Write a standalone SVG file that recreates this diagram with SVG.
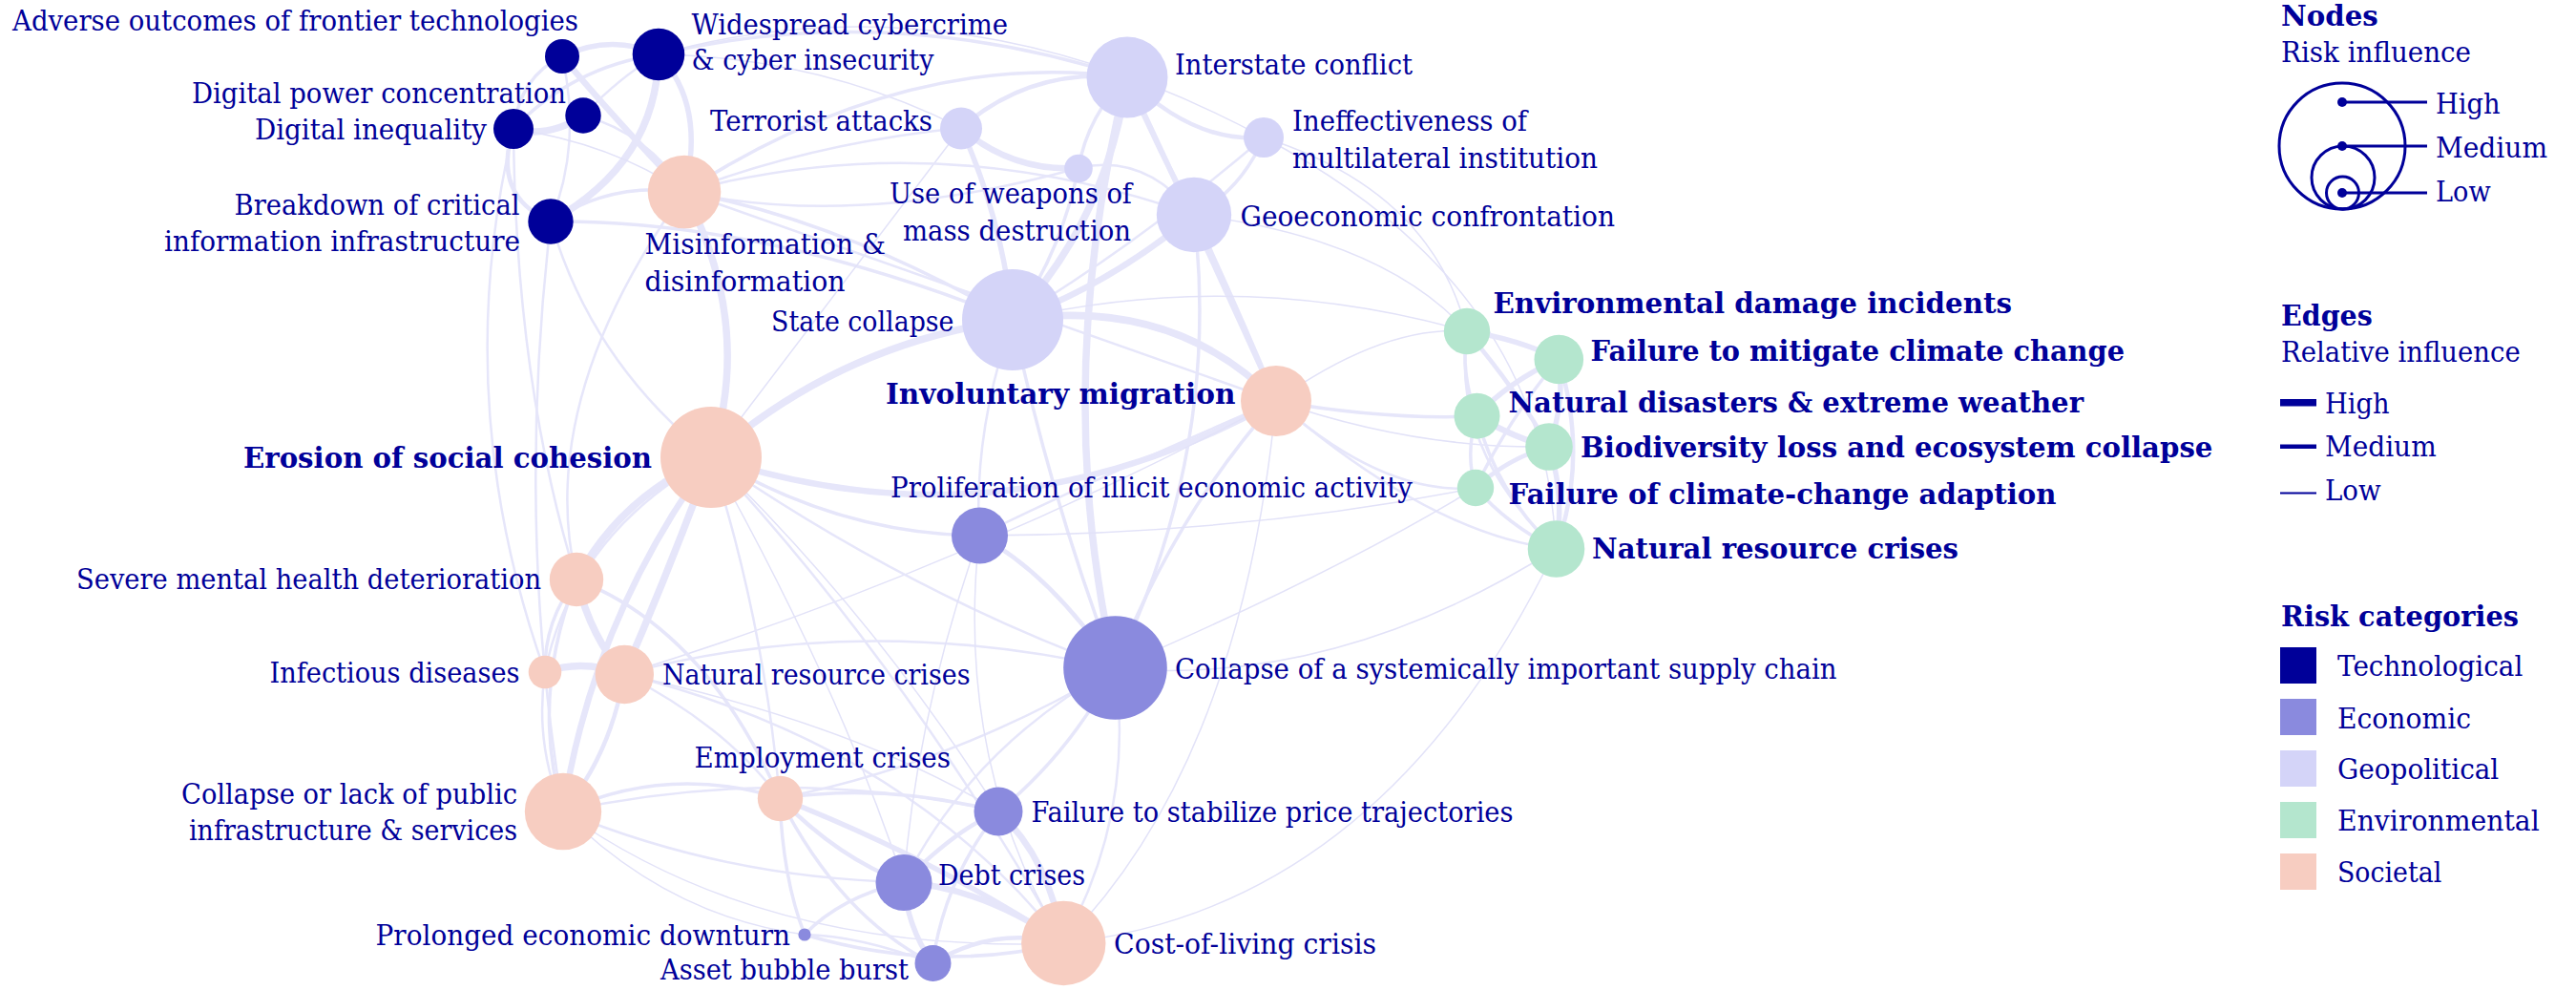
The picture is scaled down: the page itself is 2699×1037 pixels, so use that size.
<svg xmlns="http://www.w3.org/2000/svg" width="2699" height="1037" viewBox="0 0 2699 1037">
  <style>
    .lbl { font-family: "DejaVu Serif", "Liberation Serif", serif; font-size: 29px; fill: #000099; }
    .b { font-weight: bold; }
    .e { fill: none; stroke: #E6E6FA; stroke-linecap: round; }
    .w1 { stroke-width: 1.5; stroke: #E2E2F8; }
    .w2 { stroke-width: 2.5; }
    .w3 { stroke-width: 3.5; }
    .w4 { stroke-width: 4.5; }
    .w5 { stroke-width: 5.5; }
    .w6 { stroke-width: 6.5; }
    .w7 { stroke-width: 7.5; }
    .tech { fill: #000099; }
    .econ { fill: #8A8ADE; }
    .geo { fill: #D4D4F8; }
    .env { fill: #B4E6CE; }
    .soc { fill: #F7CDC1; }
    .lg { fill: none; stroke: #000099; stroke-width: 3; }
  </style>
  <rect width="2699" height="1037" fill="#ffffff"/>

  <!-- influence links between risks -->
  <g id="connectors">
    <!-- technological cluster -->
    <path class="e w5" d="M589,59 Q640,35 690,57"/>
    <path class="e w6" d="M589,59 Q640,120 717,201"/>
    <path class="e w3" d="M589,59 Q545,80 538,135"/>
    <path class="e w2" d="M589,59 Q610,150 577,232"/>
    <path class="e w7" d="M690,57 Q688,170 577,232"/>
    <path class="e w5" d="M690,57 Q740,110 717,201"/>
    <path class="e w3" d="M690,57 Q600,70 538,135"/>
    <path class="e w2" d="M690,57 Q650,80 611,121"/>
    <path class="e w7" d="M538,135 Q575,145 611,121"/>
    <path class="e w4" d="M538,135 Q515,205 577,232"/>
    <path class="e w2" d="M611,121 Q680,140 717,201"/>
    <path class="e w1" d="M538,135 Q640,150 717,201"/>
    <path class="e w3" d="M577,232 Q640,190 717,201"/>
    <path class="e w3" d="M577,232 Q800,230 1061,335"/>
    <path class="e w3" d="M690,57 Q930,0 1181,81"/>
    <path class="e w1" d="M690,57 Q860,60 1007,134"/>
    <path class="e w1" d="M690,57 Q1000,-30 1324,144"/>
    <path class="e w2" d="M577,232 Q620,380 745,479"/>
    <path class="e w2" d="M577,232 Q540,550 590,850"/>
    <path class="e w2" d="M538,135 Q470,420 571,704"/>
    <path class="e w2" d="M538,135 Q540,400 604,607"/>

    <!-- geopolitical cluster -->
    <path class="e w4" d="M1007,134 Q1080,70 1181,81"/>
    <path class="e w6" d="M1007,134 Q1060,180 1130,176"/>
    <path class="e w5" d="M1007,134 Q1050,230 1061,335"/>
    <path class="e w2" d="M1007,134 Q850,150 717,201"/>
    <path class="e w1" d="M1007,134 Q880,300 745,479"/>
    <path class="e w3" d="M1181,81 Q1140,120 1130,176"/>
    <path class="e w7" d="M1181,81 Q1160,230 1061,335"/>
    <path class="e w5" d="M1181,81 Q1215,160 1251,225"/>
    <path class="e w4" d="M1181,81 Q1250,150 1324,144"/>
    <path class="e w7" d="M1181,81 Q1100,400 1168,700"/>
    <path class="e w5" d="M1181,81 Q1260,250 1337,420"/>
    <path class="e w3" d="M1181,81 Q950,50 717,201"/>
    <path class="e w3" d="M1130,176 Q1110,270 1061,335"/>
    <path class="e w2" d="M1130,176 Q1200,160 1251,225"/>
    <path class="e w2" d="M1130,176 Q900,240 717,201"/>
    <path class="e w3" d="M1324,144 Q1300,200 1251,225"/>
    <path class="e w2" d="M1324,144 Q1200,250 1061,335"/>
    <path class="e w1" d="M1324,144 Q1500,200 1537,347"/>
    <path class="e w1" d="M1324,144 Q1620,300 1630,575"/>
    <path class="e w6" d="M1251,225 Q1160,300 1061,335"/>
    <path class="e w4" d="M1251,225 Q1300,330 1337,420"/>
    <path class="e w3" d="M1251,225 Q1280,470 1168,700"/>
    <path class="e w1" d="M1251,225 Q1450,250 1537,347"/>
    <path class="e w2" d="M717,201 Q980,130 1251,225"/>
    <path class="e w7" d="M1061,335 Q1230,310 1337,420"/>
    <path class="e w7" d="M1061,335 Q880,360 745,479"/>
    <path class="e w3" d="M1061,335 Q880,230 717,201"/>
    <path class="e w3" d="M1061,335 Q1100,520 1168,700"/>
    <path class="e w2" d="M1061,335 Q1020,450 1026,561"/>
    <path class="e w1" d="M1537,347 Q1300,280 1061,335"/>
    <path class="e w2" d="M717,201 Q1000,300 1337,420"/>
    <path class="e w7" d="M717,201 Q790,340 745,479"/>
    <path class="e w2" d="M717,201 Q560,420 604,607"/>

    <!-- involuntary migration -->
    <path class="e w6" d="M1337,420 Q1050,580 745,479"/>
    <path class="e w3" d="M1337,420 Q1450,440 1547,436"/>
    <path class="e w1" d="M1337,420 Q1450,340 1537,347"/>
    <path class="e w1" d="M1337,420 Q1480,470 1623,468"/>
    <path class="e w2" d="M1337,420 Q1500,560 1630,575"/>
    <path class="e w2" d="M1337,420 Q1450,520 1546,511"/>
    <path class="e w3" d="M1337,420 Q1230,540 1168,700"/>
    <path class="e w2" d="M1337,420 Q1150,500 1026,561"/>
    <path class="e w1" d="M1337,420 Q1000,600 654,706"/>
    <path class="e w1" d="M1337,420 Q1300,800 1114,988"/>

    <!-- environmental cluster -->
    <path class="e w5" d="M1537,347 Q1590,355 1633,376"/>
    <path class="e w3" d="M1537,347 Q1530,390 1547,436"/>
    <path class="e w4" d="M1537,347 Q1590,410 1623,468"/>
    <path class="e w2" d="M1537,347 Q1520,470 1630,575"/>
    <path class="e w5" d="M1633,376 Q1580,400 1547,436"/>
    <path class="e w5" d="M1633,376 Q1640,420 1623,468"/>
    <path class="e w3" d="M1633,376 Q1580,440 1546,511"/>
    <path class="e w4" d="M1633,376 Q1665,480 1630,575"/>
    <path class="e w6" d="M1547,436 Q1590,460 1623,468"/>
    <path class="e w3" d="M1547,436 Q1535,475 1546,511"/>
    <path class="e w3" d="M1547,436 Q1570,520 1630,575"/>
    <path class="e w4" d="M1623,468 Q1580,480 1546,511"/>
    <path class="e w5" d="M1623,468 Q1640,520 1630,575"/>
    <path class="e w3" d="M1546,511 Q1580,550 1630,575"/>
    <path class="e w1" d="M1630,575 Q1400,720 1168,700"/>
    <path class="e w1" d="M1630,575 Q1448,952 1114,988"/>
    <path class="e w1" d="M1546,511 Q1300,560 1026,561"/>
    <path class="e w1" d="M1168,700 Q1400,600 1546,511"/>

    <!-- societal and economic clusters -->
    <path class="e w7" d="M745,479 Q650,520 604,607"/>
    <path class="e w7" d="M745,479 Q700,600 654,706"/>
    <path class="e w6" d="M745,479 Q620,650 590,850"/>
    <path class="e w2" d="M745,479 Q600,560 571,704"/>
    <path class="e w2" d="M745,479 Q800,650 817,836"/>
    <path class="e w2" d="M745,479 Q950,700 1114,988"/>
    <path class="e w3" d="M745,479 Q880,560 1026,561"/>
    <path class="e w2" d="M745,479 Q950,620 1168,700"/>
    <path class="e w1" d="M745,479 Q880,720 947,924"/>
    <path class="e w1" d="M745,479 Q920,650 1046,850"/>
    <path class="e w7" d="M604,607 Q620,670 654,706"/>
    <path class="e w3" d="M604,607 Q570,650 571,704"/>
    <path class="e w3" d="M604,607 Q555,730 590,850"/>
    <path class="e w3" d="M604,607 Q740,660 817,836"/>
    <path class="e w7" d="M571,704 Q610,690 654,706"/>
    <path class="e w2" d="M571,704 Q560,780 590,850"/>
    <path class="e w4" d="M654,706 Q640,790 590,850"/>
    <path class="e w2" d="M654,706 Q760,760 817,836"/>
    <path class="e w2" d="M654,706 Q900,640 1168,700"/>
    <path class="e w2" d="M654,706 Q950,780 1114,988"/>
    <path class="e w1" d="M654,706 Q900,760 1046,850"/>
    <path class="e w3" d="M590,850 Q700,800 817,836"/>
    <path class="e w2" d="M590,850 Q820,800 1046,850"/>
    <path class="e w2" d="M590,850 Q760,920 947,924"/>
    <path class="e w1" d="M590,850 Q800,1000 1114,988"/>
    <path class="e w1" d="M590,850 Q700,960 843,979"/>
    <path class="e w4" d="M817,836 Q880,900 947,924"/>
    <path class="e w5" d="M817,836 Q980,900 1114,988"/>
    <path class="e w3" d="M817,836 Q880,960 977,1009"/>
    <path class="e w3" d="M817,836 Q820,920 843,979"/>
    <path class="e w3" d="M817,836 Q930,820 1046,850"/>
    <path class="e w2" d="M817,836 Q1000,800 1168,700"/>
    <path class="e w6" d="M947,924 Q1030,930 1114,988"/>
    <path class="e w5" d="M947,924 Q950,970 977,1009"/>
    <path class="e w4" d="M947,924 Q1000,870 1046,850"/>
    <path class="e w3" d="M947,924 Q880,940 843,979"/>
    <path class="e w4" d="M977,1009 Q1040,970 1114,988"/>
    <path class="e w2" d="M977,1009 Q900,980 843,979"/>
    <path class="e w6" d="M1046,850 Q1100,900 1114,988"/>
    <path class="e w3" d="M1046,850 Q1120,790 1168,700"/>
    <path class="e w3" d="M1046,850 Q990,920 977,1009"/>
    <path class="e w2" d="M1168,700 Q1190,850 1114,988"/>
    <path class="e w4" d="M1168,700 Q1100,600 1026,561"/>
    <path class="e w2" d="M1168,700 Q1020,780 947,924"/>
    <path class="e w1" d="M1026,561 Q960,750 947,924"/>
    <path class="e w1" d="M1026,561 Q1000,800 1114,988"/>
    <path class="e w3" d="M843,979 Q980,1020 1114,988"/>
  </g>

  <!-- risk nodes -->
  <g id="adverse-outcomes-frontier-tech">
    <circle class="tech" cx="589" cy="59" r="18"/>
    <text class="lbl" x="13" y="31.5" textLength="593" lengthAdjust="spacingAndGlyphs">Adverse outcomes of frontier technologies</text>
  </g>
  <g id="widespread-cybercrime">
    <circle class="tech" cx="690" cy="57" r="27.3"/>
    <text class="lbl" x="724.5" y="35.5" textLength="331.5" lengthAdjust="spacingAndGlyphs">Widespread cybercrime</text>
    <text class="lbl" x="724.5" y="73" textLength="254" lengthAdjust="spacingAndGlyphs">&amp; cyber insecurity</text>
  </g>
  <g id="digital-power-concentration">
    <circle class="tech" cx="611" cy="121" r="18.7"/>
    <text class="lbl" x="201" y="107.5" textLength="392" lengthAdjust="spacingAndGlyphs">Digital power concentration</text>
  </g>
  <g id="digital-inequality">
    <circle class="tech" cx="538" cy="135" r="21"/>
    <text class="lbl" x="267" y="146" textLength="243" lengthAdjust="spacingAndGlyphs">Digital inequality</text>
  </g>
  <g id="breakdown-critical-infrastructure">
    <circle class="tech" cx="577" cy="232" r="23.7"/>
    <text class="lbl" x="245.5" y="225" textLength="299" lengthAdjust="spacingAndGlyphs">Breakdown of critical</text>
    <text class="lbl" x="172" y="263" textLength="373" lengthAdjust="spacingAndGlyphs">information infrastructure</text>
  </g>
  <g id="misinformation">
    <circle class="soc" cx="717" cy="201" r="38.3"/>
    <text class="lbl" x="675.5" y="266" textLength="252.5" lengthAdjust="spacingAndGlyphs">Misinformation &amp;</text>
    <text class="lbl" x="675.5" y="304.5" textLength="210" lengthAdjust="spacingAndGlyphs">disinformation</text>
  </g>
  <g id="terrorist-attacks">
    <circle class="geo" cx="1007" cy="134.5" r="22"/>
    <text class="lbl" x="744" y="136.5" textLength="233" lengthAdjust="spacingAndGlyphs">Terrorist attacks</text>
  </g>
  <g id="interstate-conflict">
    <circle class="geo" cx="1181" cy="81" r="42.5"/>
    <text class="lbl" x="1231" y="78" textLength="249" lengthAdjust="spacingAndGlyphs">Interstate conflict</text>
  </g>
  <g id="ineffective-institutions">
    <circle class="geo" cx="1324" cy="144" r="21"/>
    <text class="lbl" x="1354" y="137" textLength="246" lengthAdjust="spacingAndGlyphs">Ineffectiveness of</text>
    <text class="lbl" x="1354" y="176" textLength="320" lengthAdjust="spacingAndGlyphs">multilateral institution</text>
  </g>
  <g id="weapons-mass-destruction">
    <circle class="geo" cx="1130" cy="176.5" r="14.8"/>
    <text class="lbl" x="932" y="213" textLength="254" lengthAdjust="spacingAndGlyphs">Use of weapons of</text>
    <text class="lbl" x="946" y="252" textLength="239" lengthAdjust="spacingAndGlyphs">mass destruction</text>
  </g>
  <g id="geoeconomic-confrontation">
    <circle class="geo" cx="1251" cy="225" r="39.2"/>
    <text class="lbl" x="1299.5" y="237" textLength="392.5" lengthAdjust="spacingAndGlyphs">Geoeconomic confrontation</text>
  </g>
  <g id="state-collapse">
    <circle class="geo" cx="1061" cy="335" r="53"/>
    <text class="lbl" x="808" y="346.5" textLength="191.5" lengthAdjust="spacingAndGlyphs">State collapse</text>
  </g>
  <g id="involuntary-migration">
    <circle class="soc" cx="1337" cy="420" r="37"/>
    <text class="lbl b" x="928" y="422.5" textLength="366.5" lengthAdjust="spacingAndGlyphs">Involuntary migration</text>
  </g>
  <g id="erosion-social-cohesion">
    <circle class="soc" cx="745" cy="479" r="53"/>
    <text class="lbl b" x="255" y="490" textLength="428" lengthAdjust="spacingAndGlyphs">Erosion of social cohesion</text>
  </g>
  <g id="illicit-economic-activity">
    <circle class="econ" cx="1026.5" cy="561" r="29.5"/>
    <text class="lbl" x="933" y="520.5" textLength="547" lengthAdjust="spacingAndGlyphs">Proliferation of illicit economic activity</text>
  </g>
  <g id="mental-health">
    <circle class="soc" cx="604" cy="607" r="28.2"/>
    <text class="lbl" x="80" y="617" textLength="487" lengthAdjust="spacingAndGlyphs">Severe mental health deterioration</text>
  </g>
  <g id="infectious-diseases">
    <circle class="soc" cx="571" cy="704" r="17.3"/>
    <text class="lbl" x="282.5" y="715" textLength="262" lengthAdjust="spacingAndGlyphs">Infectious diseases</text>
  </g>
  <g id="natural-resource-crises-societal">
    <circle class="soc" cx="654.3" cy="706.5" r="30.7"/>
    <text class="lbl" x="694" y="717" textLength="322.5" lengthAdjust="spacingAndGlyphs">Natural resource crises</text>
  </g>
  <g id="employment-crises">
    <circle class="soc" cx="817.5" cy="836.5" r="23.7"/>
    <text class="lbl" x="727.5" y="804" textLength="268.5" lengthAdjust="spacingAndGlyphs">Employment crises</text>
  </g>
  <g id="public-infrastructure">
    <circle class="soc" cx="590" cy="850" r="40.2"/>
    <text class="lbl" x="190" y="841.5" textLength="352" lengthAdjust="spacingAndGlyphs">Collapse or lack of public</text>
    <text class="lbl" x="198" y="880" textLength="344" lengthAdjust="spacingAndGlyphs">infrastructure &amp; services</text>
  </g>
  <g id="economic-downturn">
    <circle class="econ" cx="843" cy="979" r="6.6"/>
    <text class="lbl" x="393.6" y="989.5" textLength="434.4" lengthAdjust="spacingAndGlyphs">Prolonged economic downturn</text>
  </g>
  <g id="asset-bubble">
    <circle class="econ" cx="977.5" cy="1009" r="19"/>
    <text class="lbl" x="692" y="1025.5" textLength="260" lengthAdjust="spacingAndGlyphs">Asset bubble burst</text>
  </g>
  <g id="debt-crises">
    <circle class="econ" cx="947" cy="924.5" r="29.5"/>
    <text class="lbl" x="983" y="926.5" textLength="154" lengthAdjust="spacingAndGlyphs">Debt crises</text>
  </g>
  <g id="cost-of-living">
    <circle class="soc" cx="1114.3" cy="988" r="44.2"/>
    <text class="lbl" x="1167" y="998.5" textLength="275" lengthAdjust="spacingAndGlyphs">Cost-of-living crisis</text>
  </g>
  <g id="price-trajectories">
    <circle class="econ" cx="1046" cy="850" r="25.5"/>
    <text class="lbl" x="1080.5" y="861" textLength="505" lengthAdjust="spacingAndGlyphs">Failure to stabilize price trajectories</text>
  </g>
  <g id="supply-chain">
    <circle class="econ" cx="1168.5" cy="699.5" r="54.3"/>
    <text class="lbl" x="1231" y="711" textLength="693.5" lengthAdjust="spacingAndGlyphs">Collapse of a systemically important supply chain</text>
  </g>
  <g id="environmental-damage">
    <circle class="env" cx="1537" cy="347" r="24.2"/>
    <text class="lbl b" x="1564.5" y="328.3" textLength="543.5" lengthAdjust="spacingAndGlyphs">Environmental damage incidents</text>
  </g>
  <g id="climate-mitigation">
    <circle class="env" cx="1633.3" cy="376.5" r="25.8"/>
    <text class="lbl b" x="1666.6" y="378.3" textLength="559.4" lengthAdjust="spacingAndGlyphs">Failure to mitigate climate change</text>
  </g>
  <g id="natural-disasters">
    <circle class="env" cx="1547.5" cy="435.7" r="24"/>
    <text class="lbl b" x="1580.5" y="431.7" textLength="602.5" lengthAdjust="spacingAndGlyphs">Natural disasters &amp; extreme weather</text>
  </g>
  <g id="biodiversity-loss">
    <circle class="env" cx="1623" cy="468" r="24.8"/>
    <text class="lbl b" x="1656" y="479" textLength="662.4" lengthAdjust="spacingAndGlyphs">Biodiversity loss and ecosystem collapse</text>
  </g>
  <g id="climate-adaption">
    <circle class="env" cx="1546" cy="511" r="19.2"/>
    <text class="lbl b" x="1580.5" y="527.7" textLength="574" lengthAdjust="spacingAndGlyphs">Failure of climate-change adaption</text>
  </g>
  <g id="natural-resource-crises-environmental">
    <circle class="env" cx="1630.5" cy="575" r="29.8"/>
    <text class="lbl b" x="1668" y="585" textLength="384" lengthAdjust="spacingAndGlyphs">Natural resource crises</text>
  </g>

  <!-- key -->
  <g id="legend">
    <text class="lbl b" x="2390" y="27" textLength="101.7" lengthAdjust="spacingAndGlyphs">Nodes</text>
    <text class="lbl" x="2390" y="65" textLength="199" lengthAdjust="spacingAndGlyphs">Risk influence</text>
    <circle class="lg" cx="2454" cy="153" r="66"/>
    <circle class="lg" cx="2455" cy="186" r="33"/>
    <circle class="lg" cx="2454.5" cy="202" r="17"/>
    <g fill="#000099">
      <circle cx="2454" cy="107" r="5"/>
      <circle cx="2454" cy="153" r="5"/>
      <circle cx="2454" cy="202" r="5"/>
    </g>
    <g stroke="#000099" stroke-width="3">
      <line x1="2454" y1="107" x2="2543" y2="107"/>
      <line x1="2454" y1="153" x2="2543" y2="153"/>
      <line x1="2454" y1="202" x2="2543" y2="202"/>
    </g>
    <text class="lbl" x="2552" y="118.6" textLength="67.7" lengthAdjust="spacingAndGlyphs">High</text>
    <text class="lbl" x="2552" y="164.6" textLength="117" lengthAdjust="spacingAndGlyphs">Medium</text>
    <text class="lbl" x="2552" y="210.5" textLength="57.7" lengthAdjust="spacingAndGlyphs">Low</text>

    <text class="lbl b" x="2390" y="340.6" textLength="95.7" lengthAdjust="spacingAndGlyphs">Edges</text>
    <text class="lbl" x="2390" y="379" textLength="250.7" lengthAdjust="spacingAndGlyphs">Relative influence</text>
    <rect x="2389" y="418" width="38" height="7.5" fill="#000099"/>
    <rect x="2389" y="465.5" width="38" height="4.5" fill="#000099"/>
    <rect x="2389" y="515.5" width="38" height="2" fill="#000099"/>
    <text class="lbl" x="2436" y="432.5" textLength="67.7" lengthAdjust="spacingAndGlyphs">High</text>
    <text class="lbl" x="2436" y="478" textLength="116.7" lengthAdjust="spacingAndGlyphs">Medium</text>
    <text class="lbl" x="2436" y="524" textLength="58.7" lengthAdjust="spacingAndGlyphs">Low</text>

    <text class="lbl b" x="2390" y="656" textLength="249" lengthAdjust="spacingAndGlyphs">Risk categories</text>
    <rect class="tech" x="2389" y="678" width="38" height="38"/>
    <rect class="econ" x="2389" y="732" width="38" height="38"/>
    <rect class="geo" x="2389" y="786" width="38" height="38"/>
    <rect class="env" x="2389" y="840" width="38" height="38"/>
    <rect class="soc" x="2389" y="894" width="38" height="38"/>
    <text class="lbl" x="2449" y="708" textLength="194.3" lengthAdjust="spacingAndGlyphs">Technological</text>
    <text class="lbl" x="2449" y="763" textLength="140" lengthAdjust="spacingAndGlyphs">Economic</text>
    <text class="lbl" x="2449" y="816" textLength="169.3" lengthAdjust="spacingAndGlyphs">Geopolitical</text>
    <text class="lbl" x="2449" y="870" textLength="211.7" lengthAdjust="spacingAndGlyphs">Environmental</text>
    <text class="lbl" x="2449" y="924" textLength="109.3" lengthAdjust="spacingAndGlyphs">Societal</text>
  </g>
</svg>
